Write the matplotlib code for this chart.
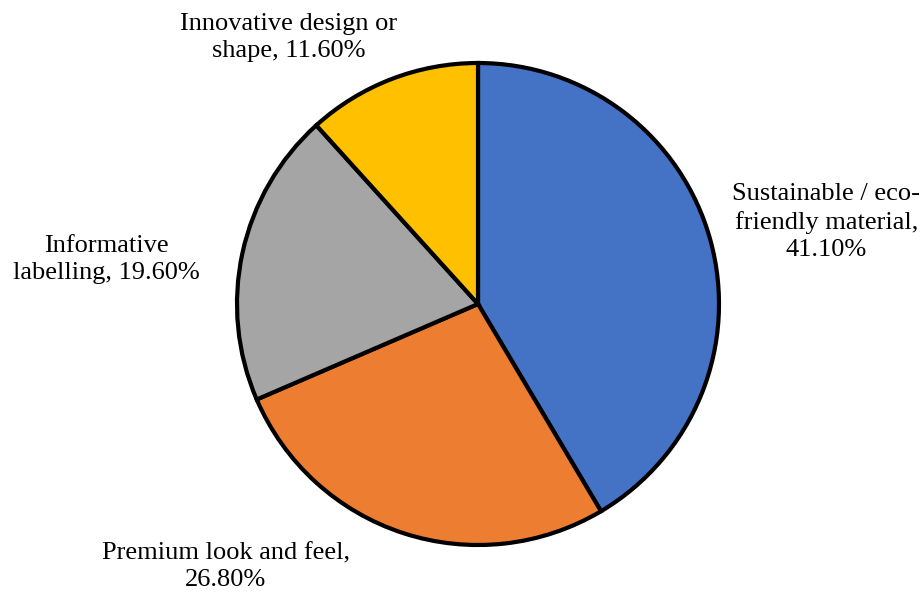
import matplotlib.pyplot as plt
import numpy as np

# share of respondents by packaging feature
categories = ["Sustainable / eco-\nfriendly material", "Premium look and feel",
              "Informative\nlabelling", "Innovative design or\nshape"]
shares = [41.10, 26.80, 19.60, 11.60]
colors = ["#4472C4", "#ED7D31", "#A5A5A5", "#FFC000"]

# text between the name and the percentage (some labels wrap)
seps = [",\n", ",\n", ", ", ", "]
# where each label sits, in pie-radius units from the centre
label_pos = [(1.445, 0.34), (-1.046, -1.09), (-1.54, 0.185), (-0.784, 1.105)]

plt.rcParams['font.family'] = ['Liberation Serif', 'DejaVu Serif']

fig = plt.figure(figsize=(9.23, 5.92), dpi=100)
ax = fig.add_axes([0, 0, 1, 1])

ax.pie(shares, colors=colors, startangle=90, counterclock=False,
       wedgeprops=dict(edgecolor='black', linewidth=3), radius=1)

for name, sep, val, (x, y) in zip(categories, seps, shares, label_pos):
    ax.text(x, y, "%s%s%.2f%%" % (name, sep, val), ha='center', va='center',
            fontsize=19, linespacing=1.3)

# pie centre at (478, 304) px, radius ~241 px
r = 241
cx, cy = 478, 592 - 304
ax.set_xlim(-cx / r, (923 - cx) / r)
ax.set_ylim(-cy / r, (592 - cy) / r)
ax.set_aspect('equal')
ax.axis('off')

fig.savefig("out.png", dpi=100)
